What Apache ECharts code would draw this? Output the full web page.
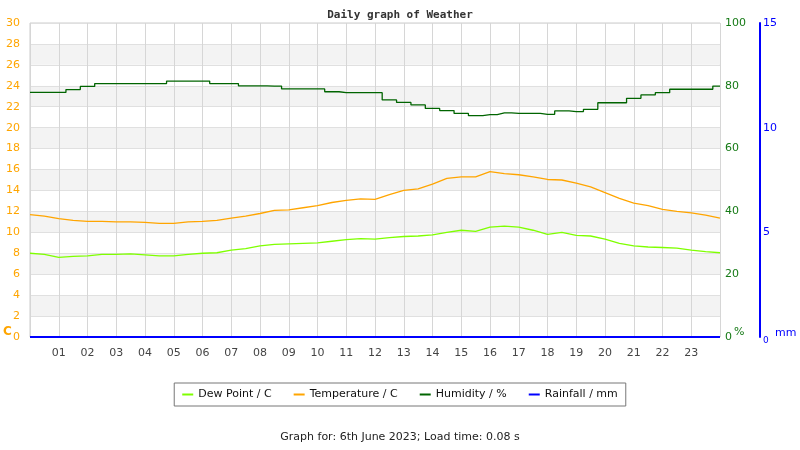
<!DOCTYPE html>
<html>
<head>
<meta charset="utf-8">
<script src="https://cdn.jsdelivr.net/npm/echarts@6/dist/echarts.min.js"></script>
<style>
  html, body { margin: 0; padding: 0; background: #fff; }
  #main { width: 800px; height: 450px; }
</style>
</head>
<body>
<div id="main"></div>
<script>
// half-hour samples
const hours = [0, 0.5, 1, 1.5, 2, 2.5, 3, 3.5, 4, 4.5, 5, 5.5, 6, 6.5, 7, 7.5, 8, 8.5, 9, 9.5,
    10, 10.5, 11, 11.5, 12, 12.5, 13, 13.5, 14, 14.5, 15, 15.5, 16, 16.5, 17, 17.5, 18, 18.5, 19, 19.5,
    20, 20.5, 21, 21.5, 22, 22.5, 23, 23.5, 24];

const dewPoint = [8.0, 7.9, 7.6, 7.7, 7.75, 7.9, 7.9, 7.95, 7.85, 7.75, 7.75, 7.9, 8.0, 8.05, 8.3, 8.45, 8.7, 8.85, 8.9, 8.95,
    9.0, 9.15, 9.3, 9.4, 9.35, 9.5, 9.6, 9.65, 9.75, 10.0, 10.2, 10.1, 10.5, 10.6, 10.5, 10.2, 9.8, 10.0, 9.7, 9.65,
    9.35, 8.95, 8.7, 8.6, 8.55, 8.5, 8.3, 8.15, 8.05];

const temperature = [11.7, 11.55, 11.3, 11.15, 11.05, 11.05, 11.0, 11.0, 10.95, 10.85, 10.85, 11.0, 11.05, 11.15, 11.35, 11.55, 11.8, 12.1, 12.15, 12.35,
    12.55, 12.85, 13.05, 13.2, 13.15, 13.6, 14.0, 14.15, 14.6, 15.15, 15.3, 15.3, 15.8, 15.6, 15.5, 15.3, 15.05, 15.0, 14.7, 14.35,
    13.8, 13.25, 12.8, 12.55, 12.2, 12.0, 11.85, 11.65, 11.35];

const humidity = [77.9, 77.9, 77.9, 78.8, 79.8, 80.7, 80.7, 80.7, 80.7, 80.7, 81.5, 81.5, 81.5, 80.7, 80.7, 80.0, 80.0, 79.9, 79.0, 79.0,
    79.0, 78.1, 77.8, 77.8, 77.8, 75.5, 74.7, 73.9, 72.8, 72.1, 71.2, 70.5, 70.8, 71.4, 71.2, 71.2, 70.9, 72.0, 71.8, 72.5,
    74.6, 74.6, 76.0, 77.1, 77.8, 78.9, 78.9, 78.9, 79.9];

const rainfall = [0, 0, 0, 0, 0, 0, 0, 0, 0, 0, 0, 0, 0, 0, 0, 0, 0, 0, 0, 0,
    0, 0, 0, 0, 0, 0, 0, 0, 0, 0, 0, 0, 0, 0, 0, 0, 0, 0, 0, 0,
    0, 0, 0, 0, 0, 0, 0, 0, 0];

const hourLabels = ['', '01', '02', '03', '04', '05', '06', '07', '08', '09', '10', '11', '12',
    '13', '14', '15', '16', '17', '18', '19', '20', '21', '22', '23', ''];

const pairs = (vals) => hours.map((h, i) => [h, vals[i]]);

const font = 'DejaVu Sans, sans-serif';
const chart = echarts.init(document.getElementById('main'), null, { renderer: 'canvas' });

chart.setOption({
    animation: false,
    backgroundColor: '#ffffff',
    title: {
        text: 'Daily graph of Weather',
        left: 'center',
        top: 5,
        textStyle: { fontFamily: 'DejaVu Sans Mono, monospace', fontWeight: 'bold', fontSize: 11, color: '#333' }
    },
    grid: {
        left: 30, right: 80, top: 23, bottom: 113,
        show: true, borderColor: '#cccccc', borderWidth: 1, backgroundColor: 'transparent'
    },
    legend: {
        bottom: 44,
        left: 'center',
        borderColor: '#777',
        borderWidth: 1,
        padding: [6, 8],
        itemGap: 22,
        itemWidth: 11,
        itemHeight: 2,
        icon: 'rect',
        textStyle: { fontFamily: font, fontSize: 11, color: '#111' },
        data: ['Dew Point / C', 'Temperature / C', 'Humidity / %', 'Rainfall / mm']
    },
    xAxis: {
        type: 'value',
        min: 0, max: 24, interval: 1,
        axisLine: { show: false },
        axisTick: { show: false },
        axisLabel: {
            margin: 11,
            color: '#444',
            fontFamily: font,
            fontSize: 11,
            formatter: (v) => hourLabels[v] || ''
        },
        splitLine: { show: true, lineStyle: { color: '#d6d6d6', width: 1 } }
    },
    yAxis: [
        {
            type: 'value', position: 'left',
            min: 0, max: 30, interval: 2,
            axisLine: { show: false },
            axisTick: { show: false },
            axisLabel: { color: '#ffa500', fontFamily: font, fontSize: 11, margin: 10 },
            splitLine: { show: true, lineStyle: { color: '#e0e0e0', width: 1 } },
            splitArea: { show: true, areaStyle: { color: ['#ffffff', '#f3f3f3'] } }
        },
        {
            type: 'value', position: 'right',
            min: 0, max: 100, interval: 20,
            axisLine: { show: false },
            axisTick: { show: false },
            axisLabel: { color: '#157a15', fontFamily: font, fontSize: 11, margin: 5 },
            splitLine: { show: false }
        },
        {
            type: 'value', position: 'right', offset: 40,
            min: 0, max: 15, interval: 5,
            axisLine: { show: true, lineStyle: { color: '#0000ff', width: 2 } },
            axisTick: { show: false },
            axisLabel: {
                color: '#0000ff', fontFamily: font, fontSize: 11, margin: 3,
                rich: { z: { fontSize: 9, color: '#0000ff', padding: [8, 0, 0, 0] } },
                formatter: (v) => v === 0 ? '{z|0}' : String(v)
            },
            splitLine: { show: false }
        }
    ],
    graphic: [
        { type: 'text', left: 3, top: 326, style: { text: 'C', fill: '#ffa500', font: 'bold 12px DejaVu Sans' } },
        { type: 'text', left: 734, top: 327, style: { text: '%', fill: '#157a15', font: '11px DejaVu Sans' } },
        { type: 'text', left: 775, top: 328, style: { text: 'mm', fill: '#0000ff', font: '11px DejaVu Sans' } },
        {
            type: 'text', left: 'center', top: 432,
            style: { text: 'Graph for: 6th June 2023; Load time: 0.08 s', fill: '#222', font: '11px DejaVu Sans' }
        }
    ],
    series: [
        {
            name: 'Dew Point / C', type: 'line', yAxisIndex: 0,
            data: pairs(dewPoint), showSymbol: false,
            itemStyle: { color: '#7fff00' }, lineStyle: { color: '#7fff00', width: 1.3 }
        },
        {
            name: 'Temperature / C', type: 'line', yAxisIndex: 0,
            data: pairs(temperature), showSymbol: false,
            itemStyle: { color: '#ffa500' }, lineStyle: { color: '#ffa500', width: 1.3 }
        },
        {
            name: 'Humidity / %', type: 'line', yAxisIndex: 1, step: 'middle',
            data: pairs(humidity), showSymbol: false,
            itemStyle: { color: '#006400' }, lineStyle: { color: '#006400', width: 1.3 }
        },
        {
            name: 'Rainfall / mm', type: 'line', yAxisIndex: 2,
            data: pairs(rainfall), showSymbol: false,
            itemStyle: { color: '#0000ff' }, lineStyle: { color: '#0000ff', width: 2 }
        }
    ]
});
</script>
</body>
</html>
